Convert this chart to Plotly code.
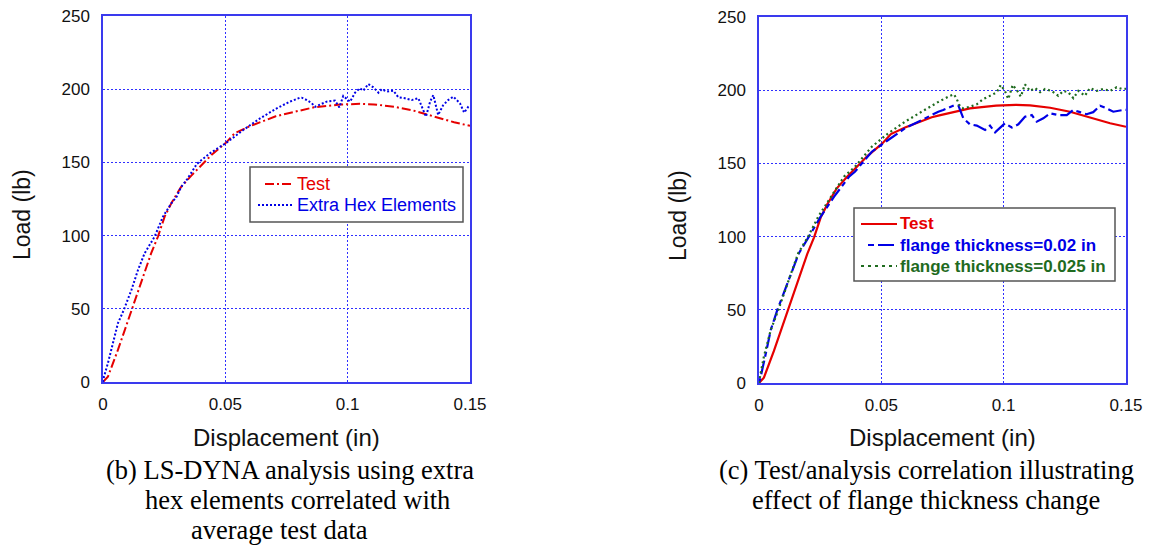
import plotly.graph_objects as go

# ---- data -------------------------------------------------------------
# Average test curve (shared by both panels)
test_disp = [0, 0.002, 0.0061, 0.0089, 0.012, 0.0147, 0.0177, 0.0197, 0.0225, 0.0252,
             0.0279, 0.0318, 0.0361, 0.0396, 0.0443, 0.0503, 0.0539, 0.0597, 0.0642,
             0.0706, 0.0737, 0.0803, 0.0862, 0.0969, 0.105, 0.1108, 0.119, 0.1271,
             0.1353, 0.1435, 0.15]
test_load = [0, 3.6, 21.9, 35.5, 49.5, 63, 77, 88, 99.5, 113,
             122, 133, 141, 147, 155, 163.5, 170, 174.5, 177.5,
             181.5, 182.8, 185.6, 187.6, 189.5, 190, 189.6, 188, 185.3,
             181.2, 177.4, 175]

# (b) LS-DYNA with extra hex elements
hex_disp = [0, 0.0004, 0.002, 0.0041, 0.0061, 0.0085, 0.0116, 0.0143, 0.017, 0.0211,
            0.0245, 0.0279, 0.0301, 0.032, 0.0342, 0.0368, 0.0383, 0.0437, 0.0505,
            0.0573, 0.0642, 0.071, 0.0764, 0.0805, 0.0812, 0.0833, 0.0853, 0.0867,
            0.0887, 0.0914, 0.0948, 0.0966, 0.0982, 0.101, 0.103, 0.105, 0.1064,
            0.1084, 0.1105, 0.1126, 0.1139, 0.116, 0.1187, 0.1207, 0.1234, 0.1262,
            0.1289, 0.1303, 0.132, 0.1337, 0.135, 0.137, 0.139, 0.1411, 0.1432,
            0.1459, 0.1476, 0.1493, 0.15]
hex_load = [0, 3.6, 12.8, 26.4, 40.1, 49.2, 62.8, 76.5, 87.9, 99.3,
            112.9, 122, 126.6, 133.4, 138, 144.8, 148.9, 156.2, 163.5,
            172.1, 180.1, 186.9, 191.5, 194.2, 194.2, 192.6, 190.4, 188,
            189.7, 191.5, 192.2, 187.6, 195.4, 191.5, 197.6, 200.6, 199,
            203.5, 201.3, 197.6, 200, 198.4, 199, 194.5, 193.8, 192.6,
            193.8, 188, 181.2, 191.5, 196, 182.4, 189, 192.6, 194.9,
            190.4, 184, 188, 189]

# (c) flange thickness = 0.02 in
f02_disp = [0, 0.0007, 0.0025, 0.0048, 0.0075, 0.0106, 0.0139, 0.0163, 0.0204, 0.0252,
            0.0307, 0.0368, 0.0392, 0.0461, 0.0528, 0.0597, 0.0665, 0.0699, 0.0733,
            0.0753, 0.0801, 0.0815, 0.0835, 0.0862, 0.089, 0.0924, 0.0944, 0.0965,
            0.0985, 0.1005, 0.1033, 0.106, 0.1087, 0.1115, 0.1135, 0.1162, 0.119,
            0.1223, 0.1258, 0.1285, 0.1312, 0.1339, 0.1366, 0.1394, 0.1421, 0.1448,
            0.1489, 0.15]
f02_load = [0, 4.3, 18, 36.2, 49.9, 63.5, 77.2, 88.6, 100, 113.6,
            127.3, 140.9, 144.3, 158, 166, 174, 179.6, 182.6, 185.3,
            186.5, 189.9, 189.4, 180.8, 176.7, 175.8, 172.8, 175.8, 171.2,
            174, 177.4, 174.5, 176.7, 181.9, 183, 178.5, 180.8, 184.2,
            183, 183, 186.5, 185, 183.6, 185, 189.4, 187.6, 185.3,
            186.5, 186.5]

# (c) flange thickness = 0.025 in
f025_disp = [0, 0.0004, 0.002, 0.0048, 0.0079, 0.0109, 0.0136, 0.016, 0.0201, 0.0242,
             0.0293, 0.0347, 0.0392, 0.0461, 0.0528, 0.0597, 0.0665, 0.0699, 0.0733,
             0.0781, 0.0797, 0.0808, 0.0822, 0.0835, 0.0862, 0.089, 0.0917, 0.0951,
             0.0972, 0.0988, 0.1005, 0.1019, 0.1037, 0.1056, 0.107, 0.1087, 0.1108,
             0.1128, 0.1149, 0.1169, 0.1196, 0.1223, 0.1244, 0.1264, 0.1285, 0.1305,
             0.1332, 0.1353, 0.138, 0.1407, 0.1435, 0.1462, 0.1484, 0.15]
f025_load = [0, 4.3, 18, 36.2, 49.9, 63.5, 77.2, 88.6, 100, 113.6,
             127.3, 140.9, 147.7, 161.4, 170.5, 178.5, 185.3, 188.8, 192,
             196.2, 197.2, 194, 188.7, 187.6, 188.7, 190.4, 194, 196.7,
             198.6, 203.6, 199.5, 194, 203.6, 199.5, 195.6, 204, 199.5,
             201.5, 198.6, 200.8, 199.5, 196.2, 199.5, 198.6, 194.5, 199.5,
             196.2, 201.5, 199.5, 200.8, 199.5, 202, 200.8, 201]

x_ticks = [0, 0.05, 0.1, 0.15]
x_tick_text = ["0", "0.05", "0.1", "0.15"]
y_ticks = [0, 50, 100, 150, 200, 250]

series_names_b = ["Test", "Extra Hex Elements"]
series_names_c = ["Test", "flange thickness=0.02 in", "flange thickness=0.025 in"]
caption_b = ["(b) LS-DYNA analysis using extra", "hex elements correlated with", "average test data"]
caption_c = ["(c) Test/analysis correlation illustrating", "effect of flange thickness change"]

# ---- styling ----------------------------------------------------------
W, H = 1149, 548
RED, BLUE, GREEN = "#e60000", "#0000e6", "#1f6b1f"
FRAME = "#3a3aee"
GRID = "#2f2fff"
SANS = "Liberation Sans, Arial, sans-serif"
SERIF = "Liberation Serif, Times New Roman, serif"

DASH_TEST_B = "9px,3px,2px,3px"
DASH_HEX = "2px,2px"
DASH_F02 = "5px,4px,14px,4px"
DASH_F025 = "2px,3px"


def px_x(p):
    return p / W


def px_y(p):
    return 1 - p / H


fig = go.Figure()

# panel (b)
fig.add_trace(go.Scatter(x=test_disp, y=test_load, mode="lines", xaxis="x", yaxis="y",
                         name=series_names_b[0], line=dict(color=RED, width=2, dash=DASH_TEST_B)))
fig.add_trace(go.Scatter(x=hex_disp, y=hex_load, mode="lines", xaxis="x", yaxis="y",
                         name=series_names_b[1], line=dict(color=BLUE, width=2, dash=DASH_HEX)))

# panel (c)
fig.add_trace(go.Scatter(x=test_disp, y=test_load, mode="lines", xaxis="x2", yaxis="y2",
                         name=series_names_c[0], line=dict(color=RED, width=2.2)))
fig.add_trace(go.Scatter(x=f02_disp, y=f02_load, mode="lines", xaxis="x2", yaxis="y2",
                         name=series_names_c[1], line=dict(color=BLUE, width=2.2, dash=DASH_F02)))
fig.add_trace(go.Scatter(x=f025_disp, y=f025_load, mode="lines", xaxis="x2", yaxis="y2",
                         name=series_names_c[2], line=dict(color=GREEN, width=2.2, dash=DASH_F025)))

common_x = dict(range=[0, 0.15], tickvals=x_ticks, ticktext=x_tick_text, automargin=False,
                showline=True, mirror=True, linecolor=FRAME, linewidth=1.5,
                showgrid=True, gridcolor=GRID, gridwidth=1.4, griddash="2px,2px",
                zeroline=False, ticks="", ticklabelstandoff=6,
                tickfont=dict(family=SANS, size=17, color="#111"))
common_y = dict(range=[0, 250], tickvals=y_ticks, automargin=False,
                showline=True, mirror=True, linecolor=FRAME, linewidth=1.5,
                showgrid=True, gridcolor=GRID, gridwidth=1, griddash="2px,2px",
                zeroline=False, ticks="", ticklabelstandoff=8,
                tickfont=dict(family=SANS, size=17, color="#111"))

fig.update_layout(
    width=W, height=H,
    margin=dict(l=0, r=0, t=0, b=0, pad=0, autoexpand=False),
    paper_bgcolor="white", plot_bgcolor="white",
    xaxis=dict(domain=[px_x(103), px_x(470)], anchor="y", **common_x),
    yaxis=dict(domain=[px_y(382), px_y(16)], anchor="x", **common_y),
    xaxis2=dict(domain=[px_x(759), px_x(1126)], anchor="y2", **common_x),
    yaxis2=dict(domain=[px_y(383), px_y(17)], anchor="x2", **common_y),
    showlegend=False,
)

shapes = []
annotations = []


def legend_box(x0, y0, x1, y1):
    shapes.append(dict(type="rect", xref="paper", yref="paper", layer="above",
                       x0=px_x(x0), x1=px_x(x1), y0=px_y(y1), y1=px_y(y0),
                       line=dict(color="#555", width=1.5), fillcolor="white"))


def legend_entry(lx0, lx1, y, color, dash, text, tx, size, bold):
    shapes.append(dict(type="line", xref="paper", yref="paper", layer="above",
                       x0=px_x(lx0), x1=px_x(lx1), y0=px_y(y), y1=px_y(y),
                       line=dict(color=color, width=2.2, dash=dash)))
    annotations.append(dict(text=text, x=px_x(tx), y=px_y(y), xref="paper", yref="paper",
                            showarrow=False, xanchor="left", yanchor="middle",
                            font=dict(family=SANS, size=size, color=color,
                                      weight="bold" if bold else "normal")))


# legend of panel (b)
legend_box(250, 167, 463, 222)
legend_entry(265, 292, 184, RED, DASH_TEST_B, series_names_b[0], 295, 18, False)
legend_entry(258, 293, 205, BLUE, DASH_HEX, series_names_b[1], 295, 18, False)

# legend of panel (c)
legend_box(854, 208, 1115, 281)
legend_entry(861, 897, 224, RED, "solid", series_names_c[0], 898, 17, True)
legend_entry(868, 896, 245, BLUE, "6px,4px,16px,4px", series_names_c[1], 898, 17, True)
legend_entry(861, 897, 266, GREEN, "3px,4px", series_names_c[2], 898, 17, True)

# axis titles
for cx in (286.5, 942.5):
    annotations.append(dict(text="Displacement (in)", x=px_x(cx), y=px_y(437), xref="paper", yref="paper",
                            showarrow=False, xanchor="center", yanchor="middle",
                            font=dict(family=SANS, size=24, color="#111")))
for cx in (22, 678):
    annotations.append(dict(text="Load (lb)", x=px_x(cx), y=px_y(215), xref="paper", yref="paper",
                            showarrow=False, xanchor="center", yanchor="middle", textangle=-90,
                            font=dict(family=SANS, size=23, color="#111")))
# captions
for i, line in enumerate(caption_b):
    annotations.append(dict(text=line, x=px_x([290, 297, 279][i]), y=px_y(470 + 30 * i),
                            xref="paper", yref="paper", showarrow=False,
                            xanchor="center", yanchor="middle",
                            font=dict(family=SERIF, size=26.5, color="#000")))
for i, line in enumerate(caption_c):
    annotations.append(dict(text=line, x=px_x(926), y=px_y(470 + 30 * i),
                            xref="paper", yref="paper", showarrow=False,
                            xanchor="center", yanchor="middle",
                            font=dict(family=SERIF, size=26.5, color="#000")))

fig.update_layout(shapes=shapes, annotations=annotations)

fig.write_html("out.html")
